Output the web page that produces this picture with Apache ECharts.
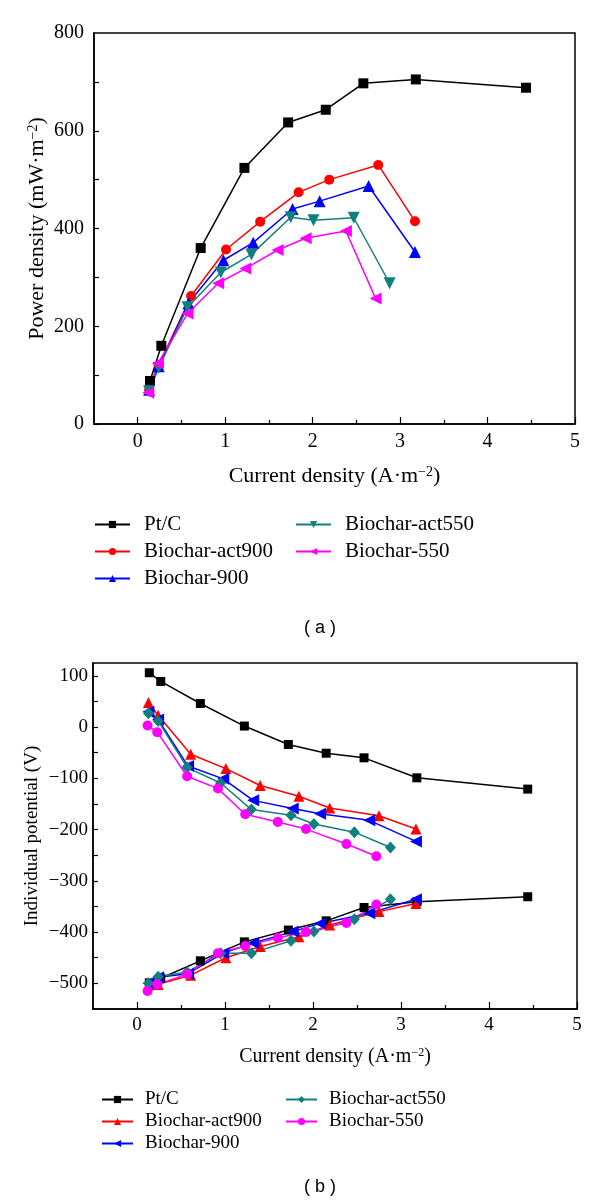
<!DOCTYPE html>
<html><head><meta charset="utf-8">
<script src="https://cdn.jsdelivr.net/npm/echarts@6/dist/echarts.min.js"></script>
<style>
html,body{margin:0;padding:0;background:#fff;}
#a{position:absolute;left:0;top:0;width:600px;height:645px;}
#b{position:absolute;left:0;top:645px;width:600px;height:559px;}
</style>
</head><body><div id="a"></div><div id="b"></div>
<script>
// ---------- data ----------
const names = ['Pt/C', 'Biochar-act900', 'Biochar-900', 'Biochar-act550', 'Biochar-550'];
const colors = ['#000000', '#ff0000', '#0000ff', '#117f7f', '#ff00ff'];

// current density (A·m^-2) per material
const xPtC    = [0.14, 0.27, 0.72, 1.22, 1.72, 2.15, 2.58, 3.18, 4.44];
const xAct900 = [0.13, 0.24, 0.61, 1.01, 1.40, 1.84, 2.19, 2.75, 3.17];
const x900    = [0.13, 0.24, 0.58, 0.98, 1.32, 1.77, 2.08, 2.64, 3.17];
const xAct550 = [0.13, 0.24, 0.57, 0.95, 1.30, 1.75, 2.01, 2.47, 2.88];
const x550    = [0.12, 0.23, 0.57, 0.92, 1.23, 1.60, 1.92, 2.38, 2.72];

// (a) power density (mW·m^-2)
const pPtC    = [88, 160, 360, 524, 617, 643, 697, 705, 688];
const pAct900 = [70, 120, 262, 357, 414, 474, 500, 530, 415];
const p900    = [70, 118, 247, 335, 371, 440, 456, 487, 352];
const pAct550 = [67, 115, 239, 310, 347, 423, 417, 422, 288];
const p550    = [64, 124, 226, 288, 318, 356, 380, 395, 257];

// (b) individual potentials (upper branch / lower branch)
const upPtC    = [106, 89, 46, 2, -34, -51, -60, -99, -121];
const loPtC    = [-499, -490, -456, -419, -396, -378, -352, -341, -331];
const upAct900 = [48, 23, -53, -81, -114, -135, -158, -173, -199];
const loAct900 = [-503, -502, -484, -450, -428, -409, -386, -360, -344];
const up900    = [30, 15, -76, -101, -143, -159, -169, -182, -223];
const lo900    = [-500, -488, -481, -441, -421, -399, -383, -363, -336];
const upAct550 = [27, 12, -79, -109, -161, -172, -189, -205, -235];
const loAct550 = [-500, -487, -478, -441, -441, -417, -399, -375, -336];
const up550    = [3, -10, -96, -120, -170, -185, -199, -228, -252];
const lo550    = [-515, -502, -482, -441, -427, -411, -400, -382, -346];

// tick labels
const xMajor = [0, 1, 2, 3, 4, 5];
const xMinor = [0.5, 1.5, 2.5, 3.5, 4.5];
const yaTicks = [0, 100, 200, 300, 400, 500, 600, 700];
const yaLabels = [0, 200, 400, 600, 800];
const ybTicks = [-500, -450, -400, -350, -300, -250, -200, -150, -100, -50, 0, 50, 100];
const ybLabels = [-500, -400, -300, -200, -100, 0, 100];

// ---------- helpers ----------
const SERIF = '"Liberation Serif", "DejaVu Serif", serif';
const zip = (xs, ys) => xs.map((x, i) => [x, ys[i]]);
const xs = [xPtC, xAct900, x900, xAct550, x550];
const minus = v => String(v).replace('-', '\u2212');

function xAxes(fs, margin, nameGap, nameFs) {
  return [{
    type: 'value', min: -0.5, max: 5, interval: 0.5,
    name: '{t|Current density (A\u00b7m}{s|\u22122}{t|)}',
    nameLocation: 'middle', nameGap: nameGap, nameMoveOverlap: false,
    nameTextStyle: { rich: {
      t: { fontFamily: SERIF, fontSize: nameFs, color: '#000', verticalAlign: 'bottom' },
      s: { fontFamily: SERIF, fontSize: Math.round(nameFs * 0.62), color: '#000', verticalAlign: 'top' } } },
    axisLine: { show: true, onZero: false, lineStyle: { color: '#000', width: 1.5 } },
    axisTick: { show: true, inside: true, length: 7, customValues: xMajor, lineStyle: { color: '#000', width: 1.2 } },
    axisLabel: { customValues: xMajor, fontFamily: SERIF, fontSize: fs, color: '#000', margin: margin },
    splitLine: { show: false }
  }, {
    type: 'value', min: -0.5, max: 5, interval: 0.5, position: 'bottom',
    axisLine: { show: false, onZero: false },
    axisTick: { show: true, inside: true, length: 4, customValues: xMinor, lineStyle: { color: '#000', width: 1.2 } },
    axisLabel: { show: false }, splitLine: { show: false }
  }];
}

function mkSeries(name, data, color, symbol, size, rotate) {
  return {
    type: 'line', name: name, data: data, xAxisIndex: 0, yAxisIndex: 0,
    symbol: symbol, symbolSize: size, symbolRotate: rotate || 0, showSymbol: true,
    lineStyle: { color: color, width: 1.5 }, itemStyle: { color: color },
    emphasis: { disabled: true }, silent: true, animation: false, z: 3
  };
}

function legends(cols, top, rowGap, fs, itemW, pad, lineH) {
  return cols.map(c => ({
    data: c.data, orient: 'vertical', left: c.left, top: top,
    itemWidth: itemW, itemHeight: 9, itemGap: rowGap, selectedMode: false,
    textStyle: { fontFamily: SERIF, fontSize: fs, color: '#000', padding: [0, 0, 0, pad], lineHeight: lineH }
  }));
}

// ---------- chart (a) ----------
const symA = [['rect', 10, 0], ['circle', 10, 0], ['triangle', 12, 0], ['triangle', 12, 180], ['triangle', 12, 90]];
const pa = [pPtC, pAct900, p900, pAct550, p550];
const chartA = echarts.init(document.getElementById('a'), null, { renderer: 'canvas' });
chartA.setOption({
  backgroundColor: '#fff', animation: false,
  grid: { left: 94, top: 33, width: 481, height: 391, show: true, borderColor: '#000', borderWidth: 1.5, backgroundColor: 'transparent' },
  xAxis: xAxes(20, 8, 41, 22),
  yAxis: {
    type: 'value', min: 0, max: 800, interval: 100,
    name: '{t|Power density (mW\u00b7m}{s|\u22122}{t|)}',
    nameLocation: 'middle', nameGap: 46, nameMoveOverlap: false,
    nameTextStyle: { rich: {
      t: { fontFamily: SERIF, fontSize: 22, color: '#000', verticalAlign: 'bottom' },
      s: { fontFamily: SERIF, fontSize: 14, color: '#000', verticalAlign: 'top' } } },
    axisLine: { show: true, onZero: false, lineStyle: { color: '#000', width: 1.5 } },
    axisTick: { show: true, inside: true, length: 5, customValues: yaTicks, lineStyle: { color: '#000', width: 1.2 } },
    axisLabel: { customValues: yaLabels, fontFamily: SERIF, fontSize: 20, color: '#000', margin: 10 },
    splitLine: { show: false }
  },
  legend: legends([{ left: 89, data: names.slice(0, 3) }, { left: 290, data: names.slice(3) }], 509, 6, 21, 35, 9, 21),
  series: names.map((n, i) => mkSeries(n, zip(xs[i], pa[i]), colors[i], symA[i][0], symA[i][1], symA[i][2])),
  graphic: [{ type: 'text', x: 320, y: 628, style: { text: '( a )', font: '18px "Liberation Sans", Arial, sans-serif', fill: '#000', align: 'center', verticalAlign: 'middle' } }]
});

// ---------- chart (b) ----------
const symB = [['rect', 9, 0], ['triangle', 11, 0], ['triangle', 12, 90], ['diamond', [11, 12], 0], ['circle', 10, 0]];
const upB = [upPtC, upAct900, up900, upAct550, up550];
const loB = [loPtC, loAct900, lo900, loAct550, lo550];
const seriesB = [];
names.forEach((n, i) => {
  seriesB.push(mkSeries(n, zip(xs[i], upB[i]), colors[i], symB[i][0], symB[i][1], symB[i][2]));
  seriesB.push(mkSeries(n, zip(xs[i], loB[i]), colors[i], symB[i][0], symB[i][1], symB[i][2]));
});
const chartB = echarts.init(document.getElementById('b'), null, { renderer: 'canvas' });
chartB.setOption({
  backgroundColor: '#fff', animation: false,
  grid: { left: 93, top: 18, width: 484, height: 346, show: true, borderColor: '#000', borderWidth: 1.5, backgroundColor: 'transparent' },
  xAxis: xAxes(19, 7, 38, 20),
  yAxis: {
    type: 'value', min: -550, max: 125, interval: 25,
    name: 'Individual potential (V)',
    nameLocation: 'middle', nameGap: 51, nameMoveOverlap: false,
    nameTextStyle: { fontFamily: SERIF, fontSize: 19, color: '#000' },
    axisLine: { show: true, onZero: false, lineStyle: { color: '#000', width: 1.5 } },
    axisTick: { show: true, inside: true, length: 5, customValues: ybTicks, lineStyle: { color: '#000', width: 1.2 } },
    axisLabel: { customValues: ybLabels, fontFamily: SERIF, fontSize: 19, color: '#000', margin: 5, formatter: minus },
    splitLine: { show: false }
  },
  legend: legends([{ left: 96, data: names.slice(0, 3) }, { left: 280, data: names.slice(3) }], 440, 3, 19, 31, 7, 19),
  series: seriesB,
  graphic: [{ type: 'text', x: 320, y: 542, style: { text: '( b )', font: '18px "Liberation Sans", Arial, sans-serif', fill: '#000', align: 'center', verticalAlign: 'middle' } }]
});
</script></body></html>
